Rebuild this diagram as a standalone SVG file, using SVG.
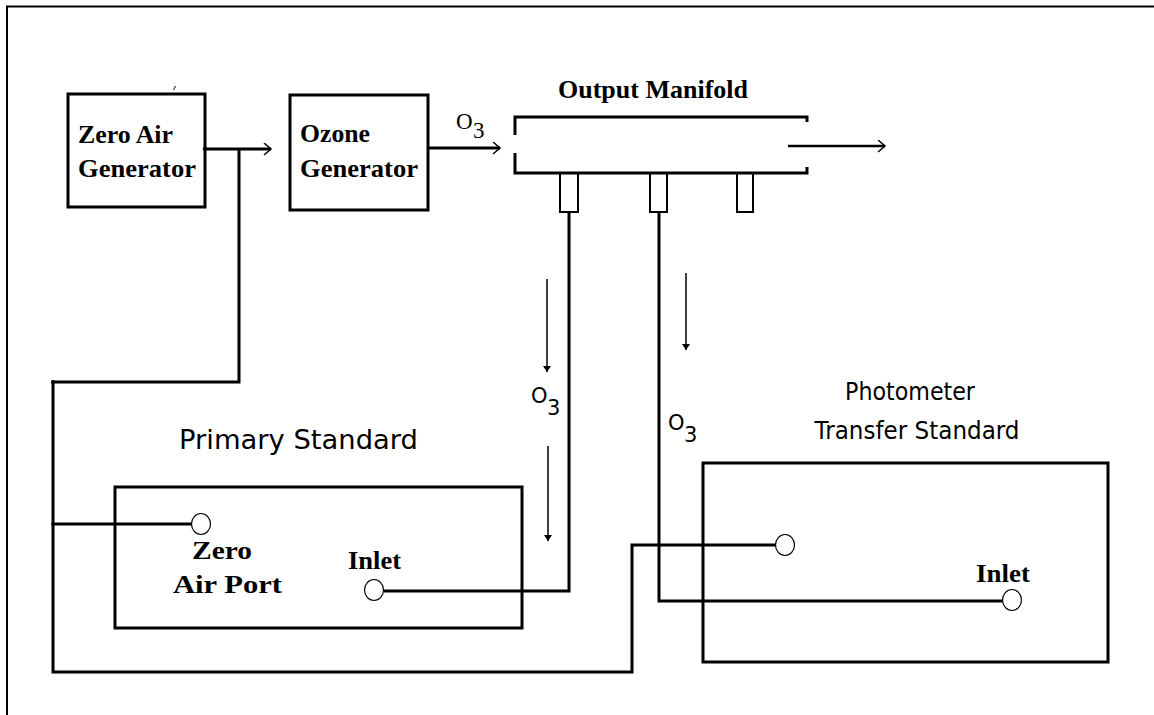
<svg xmlns="http://www.w3.org/2000/svg" width="1154" height="715" viewBox="0 0 1154 715">
<defs>
<style>
.bx{fill:none;stroke:#000;stroke-width:3}
.ln{fill:none;stroke:#000;stroke-width:3}
.th{fill:none;stroke:#000;stroke-width:1.5}
.port{fill:#fff;stroke:#000;stroke-width:1.2}
.sb{font-family:"Liberation Serif","Times New Roman",serif;font-weight:bold;font-size:26px;fill:#000}
.sr{font-family:"Liberation Serif","Times New Roman",serif;font-size:23px;fill:#000}
.ss{font-family:"DejaVu Sans","Liberation Sans",sans-serif;font-size:27px;fill:#000}
.sp{font-family:"DejaVu Sans","Liberation Sans",sans-serif;font-size:24px;fill:#000}
.so{font-family:"DejaVu Sans","Liberation Sans",sans-serif;font-size:21px;fill:#000}
</style>
<marker id="open" markerUnits="userSpaceOnUse" markerWidth="10" markerHeight="14" refX="8" refY="6" orient="auto">
<path d="M1,0 L8,6 L1,12" fill="none" stroke="#000" stroke-width="1.5"/>
</marker>
<marker id="down" markerUnits="userSpaceOnUse" markerWidth="10" markerHeight="10" refX="6" refY="4" orient="auto">
<path d="M0,0 L6,4 L0,8 Z" fill="#000"/>
</marker>
</defs>
<rect width="1154" height="715" fill="#fff"/>
<path d="M7,715 V6.5 H1154" fill="none" stroke="#000" stroke-width="2"/>

<g id="zero-air-generator">
<rect class="bx" x="68" y="94" width="137" height="113"/>
<text class="sb" x="78" y="143" textLength="95" lengthAdjust="spacingAndGlyphs">Zero Air</text>
<text class="sb" x="78" y="177" textLength="118" lengthAdjust="spacingAndGlyphs">Generator</text>
<path d="M173.5,90 L175.5,86" stroke="#000" stroke-width="1"/>
</g>

<g id="ozone-generator">
<rect class="bx" x="290" y="95" width="138" height="115"/>
<text class="sb" x="300" y="142" textLength="70" lengthAdjust="spacingAndGlyphs">Ozone</text>
<text class="sb" x="300" y="177" textLength="118" lengthAdjust="spacingAndGlyphs">Generator</text>
</g>

<g id="output-manifold">
<text class="sb" x="558" y="98" textLength="190" lengthAdjust="spacingAndGlyphs">Output Manifold</text>
<path class="ln" d="M515,135 V117 H807 V122"/>
<path class="ln" d="M515,153 V173 H807 V167"/>
<path fill="none" stroke="#000" stroke-width="2" d="M560,173 V212 H578 V173 M650,173 V212 H667 V173 M737,173 V212 H753 V173"/>
</g>

<g id="primary-standard">
<text class="ss" x="179" y="449" textLength="239" lengthAdjust="spacingAndGlyphs">Primary Standard</text>
<rect class="bx" x="115" y="487" width="407" height="141"/>
<text class="sb" x="192" y="559" textLength="60" lengthAdjust="spacingAndGlyphs">Zero</text>
<text class="sb" x="173" y="593" textLength="109" lengthAdjust="spacingAndGlyphs">Air Port</text>
<text class="sb" x="348" y="569" textLength="53" lengthAdjust="spacingAndGlyphs">Inlet</text>
</g>

<g id="photometer-transfer-standard">
<text class="sp" x="910" y="400" text-anchor="middle" textLength="130" lengthAdjust="spacingAndGlyphs">Photometer</text>
<text class="sp" x="917" y="439" text-anchor="middle" textLength="205" lengthAdjust="spacingAndGlyphs">Transfer Standard</text>
<rect class="bx" x="703" y="463" width="405" height="199"/>
<text class="sb" x="976" y="582" textLength="54" lengthAdjust="spacingAndGlyphs">Inlet</text>
</g>

<g id="connectors">
<path class="ln" d="M205,149 H271" marker-end="url(#open)"/>
<circle cx="205" cy="149" r="2.2" fill="#000"/>
<path class="ln" d="M239,149 V382 H53 V672 H632 V545 H776"/>
<circle cx="53" cy="382" r="2" fill="#000"/>
<path class="ln" d="M53,524 H192"/>
<circle cx="53" cy="524" r="1.8" fill="#000"/>
<path class="ln" d="M428,148 H500" marker-end="url(#open)"/>
<path fill="none" stroke="#000" stroke-width="2.5" d="M788,146 H885" marker-end="url(#open)"/>
<path class="ln" d="M569,212 V591 H384"/>
<path class="ln" d="M659,212 V601 H1002"/>
<path class="th" d="M547,279 V372" marker-end="url(#down)"/>
<path class="th" d="M548,446 V541" marker-end="url(#down)"/>
<path class="th" d="M686,273 V350" marker-end="url(#down)"/>
</g>

<g id="ports">
<ellipse class="port" cx="201" cy="524" rx="9.5" ry="10.5"/>
<ellipse class="port" cx="374" cy="590" rx="9.5" ry="10.5"/>
<ellipse class="port" cx="785" cy="545" rx="9.5" ry="10.5"/>
<ellipse class="port" cx="1012" cy="600" rx="9.5" ry="10.5"/>
</g>

<g id="labels">
<text class="sr" x="456" y="129">O</text>
<text class="sr" x="473" y="138">3</text>
<text class="so" x="531" y="403">O</text>
<text class="so" x="547" y="415">3</text>
<text class="so" x="668" y="430">O</text>
<text class="so" x="684" y="442">3</text>
</g>
</svg>
